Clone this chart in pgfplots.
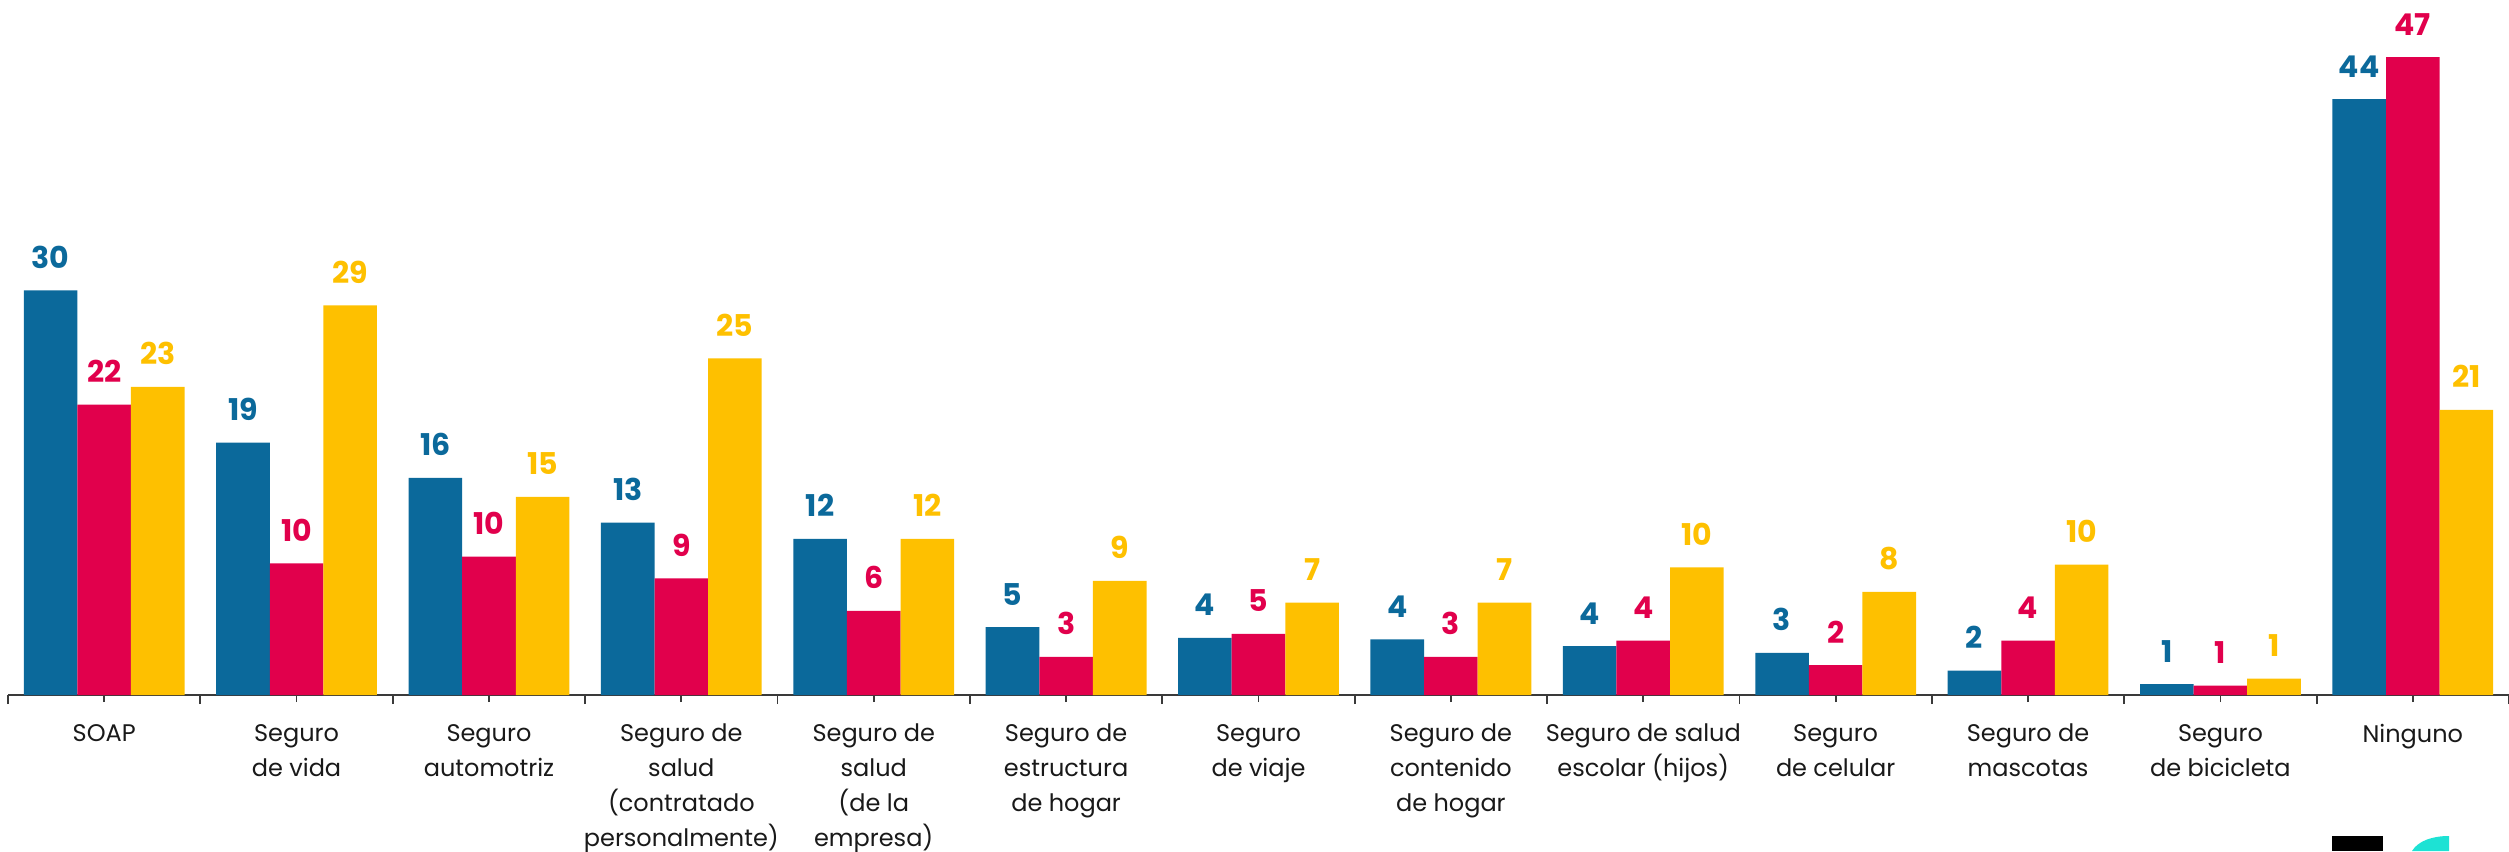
\documentclass[border=0pt]{standalone}
\usepackage{fontspec}
\setmainfont{Poppins}
\usepackage{pgfplots}
\pgfplotsset{compat=1.18}
\definecolor{cblue}{HTML}{0B699B}
\definecolor{cred}{HTML}{E1004C}
\definecolor{cyel}{HTML}{FEC000}
\definecolor{axisgray}{HTML}{3A3A3A}
\definecolor{logoteal}{HTML}{1DE2D4}
\begin{document}
\begin{tikzpicture}[x=0.5pt,y=0.5pt]
\begin{axis}[
  at={(0,0)}, anchor=south west,
  scale only axis, width=1250.5pt, height=347.5pt,
  xmin=-0.5, xmax=12.5, ymin=0, ymax=51.2,
  axis x line*=bottom, axis y line=none,
  x axis line style={axisgray, line width=1.2pt},
  xtick={0,...,12},
  xticklabels={SOAP, Seguro\\de vida, Seguro\\automotriz, Seguro de\\salud\\(contratado\\personalmente), Seguro de\\salud\\(de la\\empresa), Seguro de\\estructura\\de hogar, Seguro\\de viaje, Seguro de\\contenido\\de hogar, Seguro de salud\\escolar (hijos), Seguro\\de celular, Seguro de\\mascotas, Seguro\\de bicicleta, Ninguno},
  minor xtick={-0.5,0.5,...,12.5},
  tick align=outside, major tick length=3.5pt, minor tick length=4.5pt,
  tick style={axisgray, line width=0.9pt},
  xticklabel style={align=center, font=\fontsize{12}{17.5}\selectfont, text=black!90, anchor=north, yshift=-7.5pt},
  ybar, bar width=0.2786, clip=false,
  nodes near coords, point meta=explicit symbolic,
  every node near coord/.append style={font=\fontsize{15}{15}\selectfont\bfseries, anchor=base, yshift=11pt},
]
\addplot[fill=cblue, draw=none, bar shift=-0.2786, every node near coord/.append style={text=cblue}] coordinates {
(0,29.8)[30] (1,18.6)[19] (2,16.0)[16] (3,12.7)[13] (4,11.5)[12] (5,5.0)[5] (6,4.2)[4] (7,4.1)[4] (8,3.6)[4] (9,3.1)[3] (10,1.8)[2] (11,0.8)[1] (12,43.9)[44]};
\addplot[fill=cred, draw=none, bar shift=0, every node near coord/.append style={text=cred}] coordinates {
(0,21.4)[22] (1,9.7)[10] (2,10.2)[10] (3,8.6)[9] (4,6.2)[6] (5,2.8)[3] (6,4.5)[5] (7,2.8)[3] (8,4.0)[4] (9,2.2)[2] (10,4.0)[4] (11,0.7)[1] (12,47.0)[47]};
\addplot[fill=cyel, draw=none, bar shift=0.2786, every node near coord/.append style={text=cyel}] coordinates {
(0,22.7)[23] (1,28.7)[29] (2,14.6)[15] (3,24.8)[25] (4,11.5)[12] (5,8.4)[9] (6,6.8)[7] (7,6.8)[7] (8,9.4)[10] (9,7.6)[8] (10,9.6)[10] (11,1.2)[1] (12,21.0)[21]};
\end{axis}
\fill[black] (2324,-156) rectangle (2375,-141);
\fill[logoteal] (2404,-156) .. controls (2410,-146) and (2424,-141) .. (2441,-141) -- (2441,-156) -- cycle;
\pgfresetboundingbox
\useasboundingbox (-8,-156) rectangle (2501,695);
\end{tikzpicture}
\end{document}
